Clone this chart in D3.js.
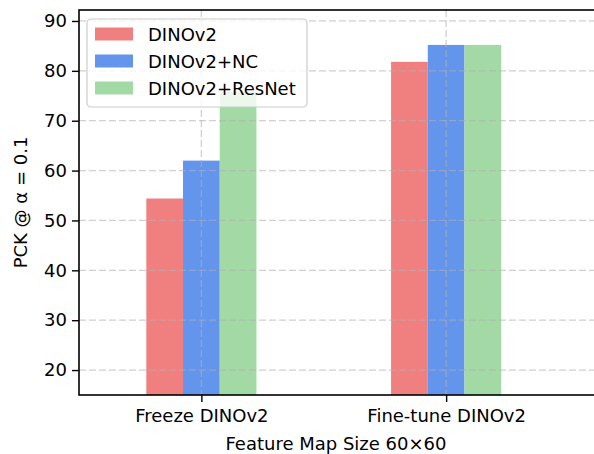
<!DOCTYPE html>
<html><head><meta charset="utf-8">
<script src="https://cdn.jsdelivr.net/npm/d3@7"></script>
<style>body{margin:0;background:#fff}svg{display:block}text{font-family:"DejaVu Sans",sans-serif;fill:#000}</style>
</head><body><svg id="c" width="594" height="454"></svg>
<script>
const categories = ["Freeze DINOv2", "Fine-tune DINOv2"];
const seriesNames = ["DINOv2", "DINOv2+NC", "DINOv2+ResNet"];
const seriesColors = ["#f08080", "#6495ed", "#a3d9a5"];
const values = {
  "DINOv2": [54.4, 81.8],
  "DINOv2+NC": [62.0, 85.2],
  "DINOv2+ResNet": [75.8, 85.2]
};
const yTicks = [20, 30, 40, 50, 60, 70, 80, 90];
const xLabel = "Feature Map Size 60×60";
const yLabel = "PCK @ α = 0.1";

(function () {
const W = 594, H = 454;
const mLeft = 79, mTop = 10, mBottom = 395, mRight = 593;
const svg = d3.select("#c");
const fs = 18;

const x = d3.scaleLinear().domain([-0.5, 1.6]).range([mLeft, mRight]);
const y = d3.scaleLinear().domain([15, 92.2]).range([mBottom, mTop]);
const bw = 0.15;

// bars
seriesNames.forEach((s, i) => {
  svg.append("g").selectAll("rect").data(values[s]).join("rect")
    .attr("x", (d, j) => x(j + (i - 1) * bw - bw / 2))
    .attr("width", x(bw) - x(0))
    .attr("y", d => y(d))
    .attr("height", d => y(15) - y(d))
    .attr("fill", seriesColors[i]);
});

// grid (above bars)
const grid = svg.append("g").attr("stroke", "#b0b0b0").attr("stroke-opacity", 0.6)
  .attr("stroke-width", 1.3).attr("stroke-dasharray", "7,3");
grid.selectAll("line.h").data(yTicks).join("line").attr("class", "h")
  .attr("x1", mLeft).attr("x2", W).attr("y1", d => y(d)).attr("y2", d => y(d));
grid.selectAll("line.v").data(categories).join("line").attr("class", "v")
  .attr("y1", mTop).attr("y2", mBottom).attr("x1", (d, i) => x(i)).attr("x2", (d, i) => x(i));

// spines (right spine lies just past the picture edge)
const sp = svg.append("g").attr("stroke", "#000").attr("stroke-width", 1.6).attr("fill", "none");
sp.append("rect").attr("x", mLeft).attr("y", mTop).attr("width", W + 3 - mLeft).attr("height", mBottom - mTop);

// y axis
const ya = svg.append("g").attr("transform", `translate(${mLeft},0)`)
  .call(d3.axisLeft(y).tickValues(yTicks).tickSize(7).tickPadding(5).tickFormat(d3.format("d")));
ya.select(".domain").remove();
ya.selectAll("line").attr("stroke", "#000").attr("stroke-width", 1.4);
ya.selectAll("text").attr("font-size", fs).attr("font-family", "DejaVu Sans").attr("fill", "#000");

// x axis
const xa = svg.append("g").attr("transform", `translate(0,${mBottom})`)
  .call(d3.axisBottom(x).tickValues([0, 1]).tickSize(7).tickPadding(7).tickFormat((d) => categories[d]));
xa.select(".domain").remove();
xa.selectAll("line").attr("stroke", "#000").attr("stroke-width", 1.4);
xa.selectAll("text").attr("font-size", fs).attr("font-family", "DejaVu Sans").attr("fill", "#000");

svg.append("text").attr("x", (mLeft + mRight) / 2).attr("y", 450).attr("text-anchor", "middle")
  .attr("font-size", fs).text(xLabel);
svg.append("text").attr("transform", `translate(27,202.5) rotate(-90)`)
  .attr("text-anchor", "middle").attr("font-size", fs).text(yLabel);

// legend
const lg = svg.append("g");
lg.append("rect").attr("x", 87).attr("y", 19).attr("width", 220).attr("height", 88).attr("rx", 4)
  .attr("fill", "#fff").attr("fill-opacity", 0.8).attr("stroke", "#cccccc").attr("stroke-width", 1.2);
seriesNames.forEach((s, i) => {
  const cy = 34 + i * 27;
  lg.append("rect").attr("x", 95).attr("y", cy - 6.5).attr("width", 38).attr("height", 13).attr("fill", seriesColors[i]);
  lg.append("text").attr("x", 148).attr("y", cy + 6.5).attr("font-size", fs).text(s);
});
})();
</script></body></html>
